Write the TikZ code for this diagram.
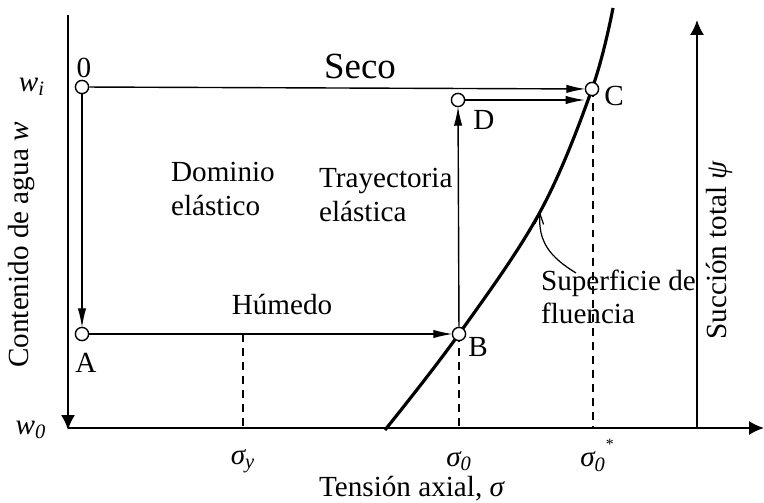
\documentclass[tikz,border=0pt]{standalone}
\usepackage{fontspec}
\setmainfont{Liberation Serif}
\usetikzlibrary{arrows.meta,positioning}

\begin{document}
\begin{tikzpicture}[
  x=0.02cm, y=-0.02cm,
  font=\fontsize{16.6}{19}\selectfont,
  axis/.style={-{Latex[length=8.5pt,width=8pt]},line width=1.1pt},
  path/.style={-{Latex[length=11pt,width=4.8pt]},line width=0.8pt,shorten >=-0.5pt},
  pt/.style={circle,draw,fill=white,line width=0.8pt,inner sep=0pt,minimum size=7.5pt},
  guide/.style={dashed,line width=0.8pt,dash pattern=on 4.5pt off 3.5pt},
  lbl/.style={inner sep=1pt}
]
\useasboundingbox (0,0) rectangle (764,503);
% axes
\coordinate (ytop) at (68,15);
\coordinate (orig) at (68,430);
\coordinate (xend) at (764,428);
\coordinate (psib) at (697,428);
\coordinate (psit) at (697,20);
\draw[axis] (ytop) -- (orig);
\draw[axis] (68,428) -- (xend);
\draw[axis] (psib) -- (psit);
% yield surface
\draw[line width=1.8pt] plot[smooth,tension=0.6] coordinates
  {(385,430) (459,334) (540,212) (592,89) (613,8)};
% dashed guides
\draw[guide] (243,334) -- (243,428);
\draw[guide] (459,334) -- (459,428);
\draw[guide] (593,89) -- (593,428);
% states
\node[pt] (O) at (82,87) {};
\node[pt] (C) at (592,89) {};
\node[pt] (D) at (458,100) {};
\node[pt] (A) at (82,334) {};
\node[pt] (B) at (459,334) {};
\draw[path] (O) -- (C);
\draw[path] (O) -- (A);
\draw[path] (A) -- (B);
\draw[path] (B) -- (D);
\draw[path] (D) -- (584,100);
% labels
\node[lbl] at (84,68) {0};
\node[lbl] at (614,96) {C};
\node[lbl] at (484,120) {D};
\node[lbl] at (478,347) {B};
\node[lbl] at (86,363) {A};
\node[lbl,font=\fontsize{21}{24}\selectfont] at (360,66) {Seco};
\node[lbl] at (282,305) {Húmedo};
\node[lbl,align=left,anchor=west] at (169,189) {Dominio\\elástico};
\node[lbl,align=left,anchor=west] at (317,195) {Trayectoria\\elástica};
\node[lbl,align=left,anchor=west] (sup) at (539,297) {Superficie de\\fluencia};
\draw[-{Straight Barb[length=6pt,width=5pt]},line width=0.7pt]
  (576,273) .. controls (550,257) and (538,242) .. (540,212);
\node[lbl] at (32,87) {\textit{w\textsubscript{i}}};
\node[lbl] at (31,430) {\textit{w\textsubscript{0}}};
\node[lbl] at (243,461) {\textit{σ\textsubscript{y}}};
\node[lbl] at (459,461) {\textit{σ\textsubscript{0}}};
\node[lbl] at (597,455) {\textit{σ\textsubscript{0}}\raisebox{1.3ex}{\small *}};
\node[inner sep=0pt] at (412,489) {Tensión axial, \textit{σ}};
\node[lbl,rotate=90] at (22,245) {Contenido de agua \textit{w}};
\node[lbl,rotate=90] at (719,250) {Succión total \textit{ψ}};
\end{tikzpicture}
\end{document}
